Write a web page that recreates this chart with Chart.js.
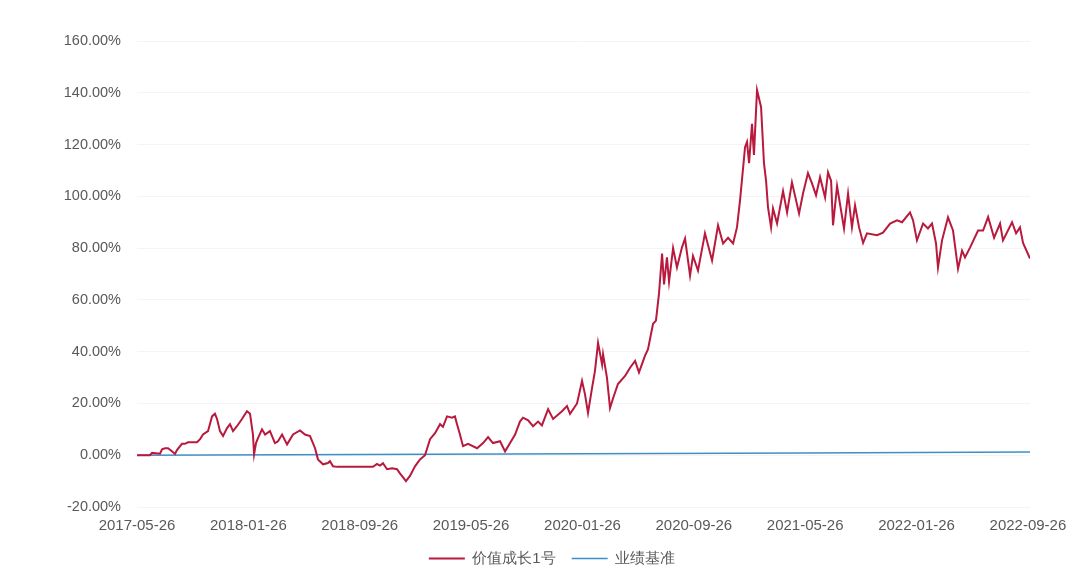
<!DOCTYPE html>
<html>
<head>
<meta charset="utf-8">
<script src="https://cdn.jsdelivr.net/npm/chart.js@4"></script>
<style>
  html, body { margin: 0; padding: 0; background: #fff; }
  #wrap { width: 1080px; height: 577px; }
</style>
</head>
<body>
<div id="wrap"><canvas id="chart"></canvas></div>
<script>
// x positions are months since 2017-05-26
const tickMonths = [0, 8, 16, 24, 32, 40, 48, 56, 64]
const tickLabels = ['2017-05-26', '2018-01-26', '2018-09-26', '2019-05-26', '2020-01-26',
  '2020-09-26', '2021-05-26', '2022-01-26', '2022-09-26']

const navMonths = [0, 0.93, 1.08, 1.65, 1.80, 2.01, 2.23, 2.51, 2.73, 2.87, 3.23, 3.45, 3.66, 4.31, 4.53,
  4.74, 5.10, 5.39, 5.60, 5.75, 5.96, 6.18, 6.47, 6.68, 6.90, 7.18, 7.54, 7.90, 8.12, 8.33, 8.41,
  8.55, 8.69, 8.98, 9.20, 9.55, 9.91, 10.13, 10.42, 10.78, 11.21, 11.71, 12.07, 12.43, 12.79, 13.00,
  13.36, 13.72, 13.86, 14.08, 14.37, 16.95, 17.24, 17.46, 17.67, 17.96, 18.32, 18.68, 18.89, 19.32,
  19.61, 19.97, 20.33, 20.69, 21.05, 21.41, 21.77, 21.98, 22.27, 22.63, 22.84, 22.99, 23.20, 23.42,
  23.78, 24.43, 24.86, 25.22, 25.57, 26.08, 26.44, 26.80, 27.16, 27.51, 27.73, 28.10, 28.45, 28.81,
  29.09, 29.53, 29.89, 30.53, 30.89, 31.11, 31.61, 31.97, 32.18, 32.40, 32.69, 32.90, 33.12, 33.41,
  33.48, 33.76, 33.98, 34.20, 34.55, 35.06, 35.42, 35.78, 36.06, 36.49, 36.71, 37.07, 37.28, 37.50,
  37.72, 37.86, 38.07, 38.22, 38.51, 38.79, 39.15, 39.37, 39.73, 39.94, 40.30, 40.80, 41.31, 41.74,
  42.10, 42.46, 42.82, 43.10, 43.32, 43.68, 43.82, 43.97, 44.18, 44.32, 44.54, 44.83, 45.04, 45.19,
  45.33, 45.55, 45.69, 45.98, 46.41, 46.70, 47.05, 47.56, 47.84, 48.20, 48.49, 48.78, 49.07, 49.43,
  49.64, 49.86, 50.00, 50.29, 50.79, 51.08, 51.36, 51.58, 51.87, 52.16, 52.44, 53.16, 53.59, 54.10,
  54.60, 54.96, 55.53, 55.75, 56.03, 56.47, 56.82, 57.11, 57.40, 57.54, 57.83, 58.26, 58.62, 58.98,
  59.27, 59.48, 59.84, 60.42, 60.78, 61.14, 61.57, 62.00, 62.21, 62.86, 63.15, 63.43, 63.65, 64.15]

const navValues = [0, 0, 0.9, 0.6, 2.3, 2.7, 2.7, 1.5, 0.5, 2.0, 4.4, 4.4, 5.0, 5.0, 6.2,
  8.0, 9.3, 15.0, 16.0, 14.0, 9.3, 7.4, 10.5, 12.0, 9.3, 11.2, 14.0, 17.0, 16.0, 8.0, 0.4,
  4.7, 6.6, 10.0, 8.0, 9.3, 4.7, 5.4, 8.0, 4.2, 8.0, 9.6, 8.0, 7.4, 2.7, -1.6,
  -3.5, -3.0, -2.3, -4.3, -4.5, -4.5, -3.4, -4.0, -3.1, -5.4, -5.0, -5.4, -7.0, -10.0,
  -8.0, -4.3, -1.6, 0, 6.2, 8.5, 12.0, 11.0, 15.0, 14.5, 15.0, 12.0, 8.0, 3.5,
  4.4, 2.7, 4.7, 7.0, 4.7, 5.4, 1.5, 4.7, 8.0, 13.0, 14.5, 13.5, 11.2, 13.0,
  11.5, 17.8, 14.0, 17.0, 19.0, 16.0, 20.0, 28.7, 23.6, 16.3, 26.0, 32.6, 43.4, 35.0,
  39.0, 30.0, 18.2, 22.0, 27.5, 30.6, 33.8, 36.4, 32.0, 38.4, 41.0, 50.8, 52.0, 62.5,
  77.9, 66.0, 76.4, 67.0, 80.0, 72.5, 80.3, 83.7, 69.4, 77.0, 71.3, 85.7, 75.2, 88.8,
  81.8, 84.0, 81.8, 88.0, 98.4, 119.0, 121.0, 112.8, 128.0, 116.0, 141.0, 134.5, 112.8, 106.0,
  95.7, 88.0, 95.3, 89.5, 102.0, 93.8, 105.4, 93.4, 101.0, 109.0, 105.0, 100.4, 107.4, 99.6,
  109.3, 106.0, 88.8, 104.0, 87.6, 101.0, 88.0, 96.5, 88.0, 82.0, 85.7, 85.0, 86.0, 89.5,
  90.7, 90.0, 93.8, 90.7, 83.0, 89.5, 87.6, 89.5, 81.8, 72.5, 83.0, 91.9, 86.8, 72.0,
  79.0, 76.4, 80.2, 86.8, 86.8, 92.0, 84.0, 89.5, 83.0, 90.0, 85.7, 88.0, 82.0, 76.0]

const benchMonths = [0, 16, 32, 48, 64.15]
const benchValues = [0, 0.3, 0.6, 0.9, 1.2]

const toPoints = (xs, ys) => xs.map((x, i) => ({ x: x, y: ys[i] }))

// legend sits centred under the plot area, not the whole canvas
const shiftLegend = {
  id: 'shiftLegend',
  afterLayout(chart) {
    chart.legend.left += 37
    chart.legend.right += 37
  }
}

const ctx = document.getElementById('chart')
new Chart(ctx, {
  type: 'line',
  data: {
    datasets: [{
      label: '价值成长1号',
      data: toPoints(navMonths, navValues),
      borderColor: '#b8193d',
      backgroundColor: '#b8193d',
      borderWidth: 2,
      pointRadius: 0,
      tension: 0
    }, {
      label: '业绩基准',
      data: toPoints(benchMonths, benchValues),
      borderColor: '#3f8fc7',
      backgroundColor: '#3f8fc7',
      borderWidth: 1.5,
      pointRadius: 0,
      tension: 0
    }]
  },
  plugins: [shiftLegend],
  options: {
    responsive: true,
    maintainAspectRatio: false,
    animation: false,
    layout: { padding: { top: 41, right: 50, bottom: 1, left: 0 } },
    plugins: {
      tooltip: { enabled: false },
      legend: {
        position: 'bottom',
        labels: {
          usePointStyle: true,
          pointStyle: 'line',
          pointStyleWidth: 36,
          color: '#595959',
          padding: 16,
          font: { family: 'Liberation Sans', size: 15 }
        }
      }
    },
    scales: {
      x: {
        type: 'linear',
        min: 0,
        max: 64.15,
        afterBuildTicks: scale => { scale.ticks = tickMonths.map(v => ({ value: v })) },
        afterFit: scale => { scale.height = 28 },
        grid: { display: false },
        border: { display: false },
        ticks: {
          autoSkip: false,
          maxRotation: 0,
          padding: 2,
          color: '#595959',
          font: { family: 'Liberation Sans', size: 15 },
          callback: (v) => tickLabels[tickMonths.indexOf(v)]
        }
      },
      y: {
        min: -20,
        max: 160,
        afterFit: scale => { scale.width = 137 },
        grid: { color: '#f4f4f4', drawTicks: false },
        border: { display: false },
        ticks: {
          stepSize: 20,
          padding: 16,
          color: '#595959',
          font: { family: 'Liberation Sans', size: 14.5 },
          callback: v => v.toFixed(2) + '%'
        }
      }
    }
  }
})
</script>
</body>
</html>
